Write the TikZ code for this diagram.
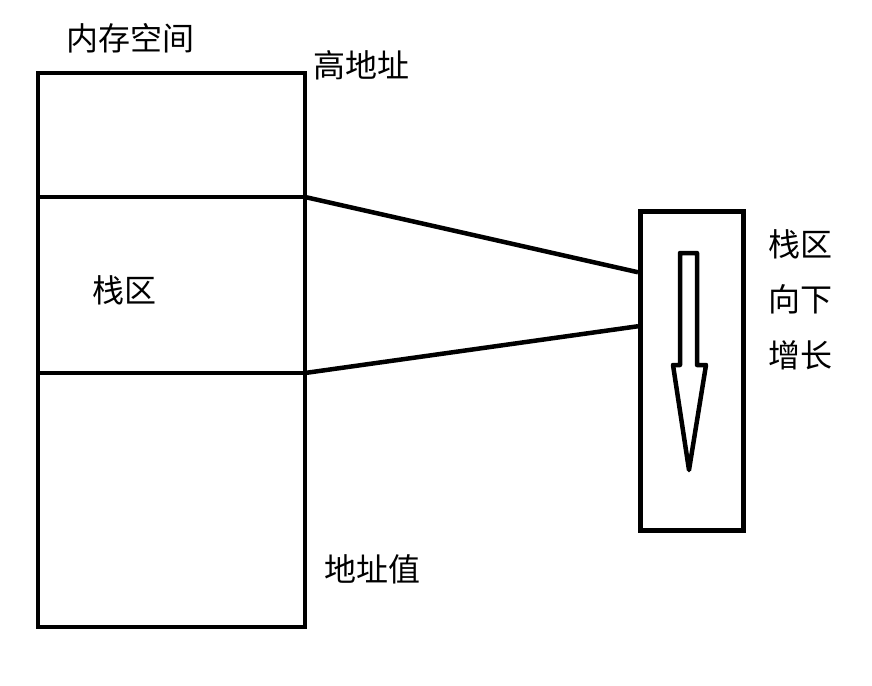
\documentclass[tikz,border=0pt]{standalone}
\usepackage{fontspec}
\newfontfamily\cjk{Noto Sans CJK SC}
\usepackage{tikz}
\usetikzlibrary{positioning}

\begin{document}
\begin{tikzpicture}[x=1pt, y=-1pt, line width=4.5pt, every node/.style={font=\cjk\fontsize{32}{38}\selectfont},
  block/.style={draw, rectangle, inner sep=0pt, outer sep=0pt, minimum width=267pt}]
\useasboundingbox (0,0) rectangle (872,685);
\node (top) [block, minimum height=124pt, anchor=north west] at (38,73) {};
\node (stack) [block, minimum height=176pt, below=0pt of top] {};
\node (bottom) [block, minimum height=254pt, below=0pt of stack] {};
\node (growbox) [draw, rectangle, inner sep=0pt, minimum width=103pt, minimum height=319pt, anchor=north west] at (638,209) {};

\node (memlabel) at (130,38) {内存空间};
\node (highaddr) at (361,65) {高地址};
\node (stacklabel) at (124,290) {栈区};
\node (addrval) at (372,569) {地址值};
\node (grow1) at (800,244) {栈区};
\node (grow2) [below=15pt of grow1] {向下};
\node (grow3) [below=15pt of grow2] {增长};

\coordinate (in1) at ([yshift=98.5pt]growbox.west);
\coordinate (in2) at ([yshift=44.5pt]growbox.west);
\draw (stack.north east) -- (in1);
\draw (stack.south east) -- (in2);

% down arrow inside the box
\draw[line join=round] (680,253) -- (697,253) -- (697,365) -- (706,365) -- (689,470)
  -- (673,365) -- (680,365) -- cycle;
\end{tikzpicture}
\end{document}
